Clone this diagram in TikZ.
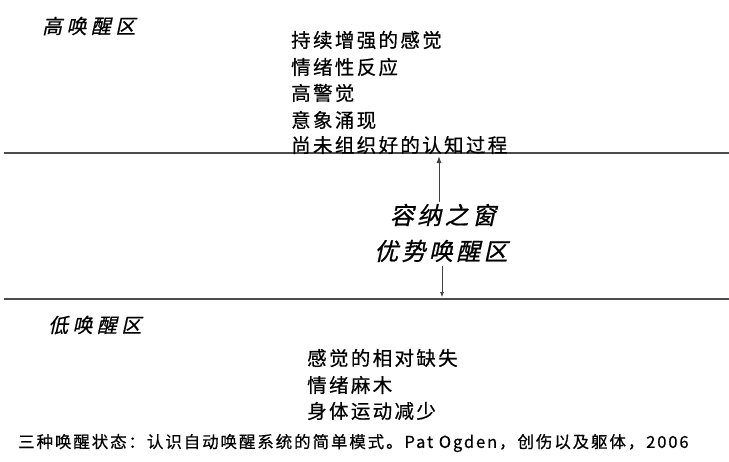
\documentclass[tikz,border=0pt]{standalone}
\usepackage{fontspec}
\newfontfamily\cjk[LetterSpace=12,FakeBold=0.6]{Noto Sans CJK SC}
\newfontfamily\cjkit[FakeSlant=0.22,LetterSpace=22,FakeBold=0.6]{Noto Sans CJK SC}
\newfontfamily\cjkwin[FakeSlant=0.22,LetterSpace=14,FakeBold=0.8]{Noto Sans CJK SC}
\newfontfamily\cjkcap[LetterSpace=11.5,FakeBold=0.5]{Noto Sans CJK SC}
\usetikzlibrary{arrows.meta}
\begin{document}
\begin{tikzpicture}[x=1pt,y=-1pt,
  zone/.style={inner sep=0pt,anchor=west,font=\cjkit\fontsize{20}{20}\selectfont},
  item/.style={inner sep=0pt,anchor=west,font=\cjk\fontsize{19.5}{20}\selectfont,text=black},
  win/.style={inner sep=0pt,font=\cjkwin\fontsize{24}{26}\selectfont},
  sep/.style={line width=2pt,draw=black!70},
  arr/.style={-{Latex[length=7pt,width=5pt]},line width=1pt,draw=black!75}]
\useasboundingbox (0,0) rectangle (729,461);
% separators
\coordinate (l1a) at (4,153); \coordinate (l1b) at (729,153);
\coordinate (l2a) at (4,299); \coordinate (l2b) at (729,299);
\draw[sep] (l1a) -- (l1b);
\draw[sep] (l2a) -- (l2b);
% high zone
\node[zone] (hz) at (42,26) {高唤醒区};
\node[item] (h1) at (291,40) {持续增强的感觉};
\node[item] (h2) at (291,67) {情绪性反应};
\node[item] (h3) at (291,93) {高警觉};
\node[item] (h4) at (291,120) {意象涌现};
\node[item] (h5) at (291,145) {尚未组织好的认知过程};
% window
\node[win] (w1) at (443,215) {容纳之窗};
\node[win] (w2) at (441,251) {优势唤醒区};
\coordinate (upS) at (439,202); \coordinate (upE) at (439,156);
\coordinate (dnS) at (442,266); \coordinate (dnE) at (442,297);
\draw[arr] (upS) -- (upE);
\draw[arr,line width=0.7pt,-{Latex[length=5pt,width=4pt]}] (dnS) -- (dnE);
% low zone
\node[zone] (lz) at (48,325) {低唤醒区};
\node[item] (l1) at (307,358) {感觉的相对缺失};
\node[item] (l2) at (307,385) {情绪麻木};
\node[item] (l3) at (307,411) {身体运动减少};
% caption
\node[inner sep=0pt,anchor=west,font=\cjkcap\fontsize{16.5}{17}\selectfont] (cap) at (18,443) {三种唤醒状态：认识自动唤醒系统的简单模式。Pat Ogden，创伤以及躯体，2006};
\end{tikzpicture}
\end{document}
